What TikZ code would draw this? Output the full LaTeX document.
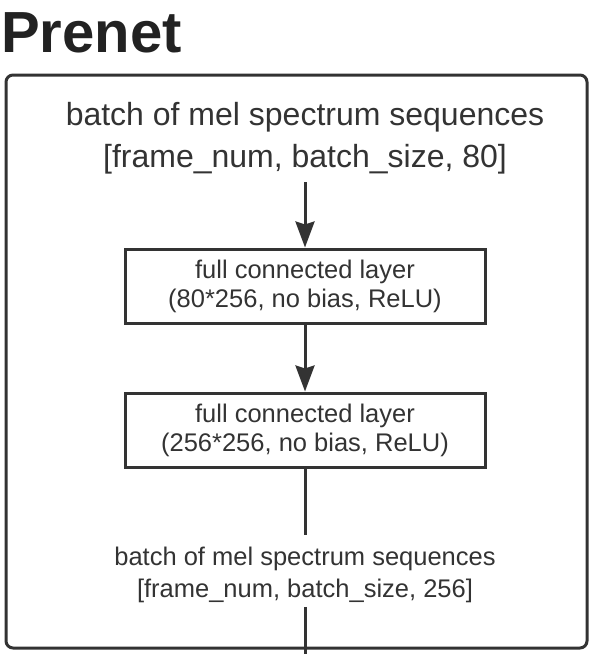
\documentclass[tikz,border=0pt]{standalone}
\usepackage{fontspec}
\setmainfont{Liberation Sans}
\usetikzlibrary{arrows.meta}
\definecolor{ink}{HTML}{333333}
\definecolor{titleink}{HTML}{222222}
\begin{document}
\begin{tikzpicture}[x=1pt,y=1pt,
  flowtext/.style={text=ink, align=center, inner sep=0pt},
  layerbox/.style={draw=ink, line width=3pt, minimum width=360pt, minimum height=74pt,
    text=ink, align=center, inner sep=0pt, font=\fontsize{25.5}{29}\selectfont},
  flow/.style={draw=ink, line width=3pt},
  arr/.style={flow, -{Stealth[length=26pt,width=19pt,inset=3pt]}}]
\useasboundingbox (0,0) rectangle (597,-654);
\node[anchor=base west, text=titleink, inner sep=0pt,
  font=\fontsize{58}{60}\selectfont\bfseries] (title) at (1,-52) {Prenet};
\node[draw=ink, line width=3pt, rounded corners=7pt, minimum width=581pt,
  minimum height=573pt, inner sep=0pt] (frame) at (296.5,-361.5) {};
\node[flowtext, font=\fontsize{32}{42}\selectfont] (in) at (305,-138)
  {batch of mel spectrum sequences\\{[}frame\_num, batch\_size, 80{]}};
\node[layerbox] (fc1) at (305,-286) {full connected layer\\(80*256, no bias, ReLU)};
\node[layerbox] (fc2) at (305,-430) {full connected layer\\(256*256, no bias, ReLU)};
\node[flowtext, font=\fontsize{25.5}{32}\selectfont] (out) at (305,-574.4)
  {batch of mel spectrum sequences\\{[}frame\_num, batch\_size, 256{]}};
\coordinate (exit) at (305,-660);
\draw[arr] ([yshift=-8pt]in.south) -- (fc1.north);
\draw[arr] (fc1.south) -- (fc2.north);
\draw[flow] (fc2.south) -- ([yshift=11pt]out.north);
\draw[flow] ([yshift=-4.5pt]out.south) -- (exit);
\end{tikzpicture}
\end{document}
